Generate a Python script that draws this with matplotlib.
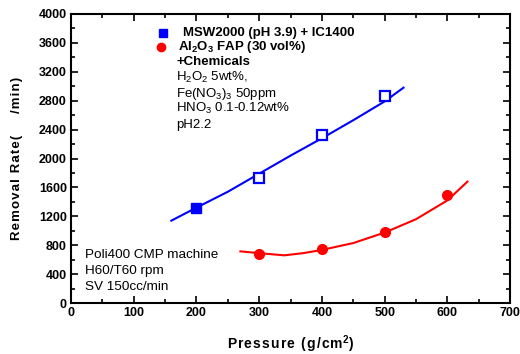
import matplotlib
matplotlib.use("Agg")
import matplotlib.pyplot as plt
from matplotlib.ticker import MultipleLocator

plt.rcParams["font.family"] = ["Liberation Sans", "DejaVu Sans"]
plt.rcParams["mathtext.fontset"] = "custom"
plt.rcParams["mathtext.rm"] = "Liberation Sans"
plt.rcParams["mathtext.bf"] = "Liberation Sans:bold"

# measured points
pressure = [200, 300, 400, 500]
rate_msw = [1315, 1735, 2325, 2865]
pressure_al = [300, 400, 500, 600]
rate_al = [680, 750, 985, 1500]

# fitted curves
fit_msw_x = [160, 200, 250, 300, 350, 400, 450, 500, 530]
fit_msw_y = [1140, 1320, 1540, 1790, 2040, 2280, 2530, 2790, 2980]
fit_al_x = [270, 300, 340, 370, 400, 450, 500, 550, 600, 632]
fit_al_y = [715, 690, 660, 690, 735, 830, 975, 1160, 1420, 1680]


def spaced(s):
    # hair space between letters, like the loose lettering of the original
    return "\u200a".join(s)


fig = plt.figure(figsize=(5.2, 3.54), dpi=100)
ax = fig.add_axes([0.1365, 0.144, 0.8445, 0.8165])

ax.plot(fit_msw_x, fit_msw_y, color="#0000ff", lw=1.5)
ax.plot(fit_al_x, fit_al_y, color="#ff0000", lw=1.5)

ax.plot(pressure[:1], rate_msw[:1], "s", color="#0000ff", ms=7)
ax.plot(pressure[1:], rate_msw[1:], "s", mfc="white", mec="#0000ff", mew=1.6, ms=7)
ax.plot(pressure_al, rate_al, "o", color="#ff0000", ms=7)

ax.set_xlim(0, 700)
ax.set_ylim(0, 4000)
ax.xaxis.set_major_locator(MultipleLocator(100))
ax.xaxis.set_minor_locator(MultipleLocator(50))
ax.yaxis.set_major_locator(MultipleLocator(400))
ax.yaxis.set_minor_locator(MultipleLocator(200))
ax.tick_params(which="both", direction="in", top=True, right=True, width=1.2)
ax.tick_params(which="major", length=5, labelsize=9, pad=3)
ax.tick_params(which="minor", length=3)
for lab in ax.get_xticklabels() + ax.get_yticklabels():
    lab.set_fontweight("bold")
for sp in ax.spines.values():
    sp.set_linewidth(1.5)

ax.set_xlabel(spaced("Pressure (g/cm") + "$^{\\mathbf{2}}$)", fontsize=10,
              fontweight="bold", labelpad=10)
ax.set_ylabel(spaced("Removal Rate(") + "      " + spaced("/min)"), fontsize=9.5,
              fontweight="bold", labelpad=11)

# legend drawn by hand
ax.plot([0.209], [0.935], "s", color="#0000ff", ms=6, transform=ax.transAxes, clip_on=False)
ax.plot([0.204], [0.886], "o", color="#ff0000", ms=6, transform=ax.transAxes, clip_on=False)
ax.text(0.255, 0.935, "MSW2000 (pH 3.9) + IC1400", transform=ax.transAxes,
        fontsize=9.5, fontweight="bold", va="center")
ax.text(0.243, 0.886, "Al$_{\\mathbf{2}}$O$_{\\mathbf{3}}$ FAP (30 vol%)", transform=ax.transAxes,
        fontsize=9.5, fontweight="bold", va="center")
ax.text(0.24, 0.822, "+Chemicals", transform=ax.transAxes,
        fontsize=9.5, fontweight="bold", va="baseline")
chem_lines = ["H$_2$O$_2$ 5wt%,", "Fe(NO$_3$)$_3$ 50ppm", "HNO$_3$ 0.1-0.12wt%", "pH2.2"]
for i, s in enumerate(chem_lines):
    ax.text(0.24, 0.768 - i * 0.054, s, transform=ax.transAxes, fontsize=9.5, va="baseline")

machine_lines = ["Poli400 CMP machine", "H60/T60 rpm", "SV 150cc/min"]
for i, s in enumerate(machine_lines):
    ax.text(0.032, 0.165 - i * 0.055, s, transform=ax.transAxes, fontsize=9.7, va="center")

fig.savefig("out.png", dpi=100)
